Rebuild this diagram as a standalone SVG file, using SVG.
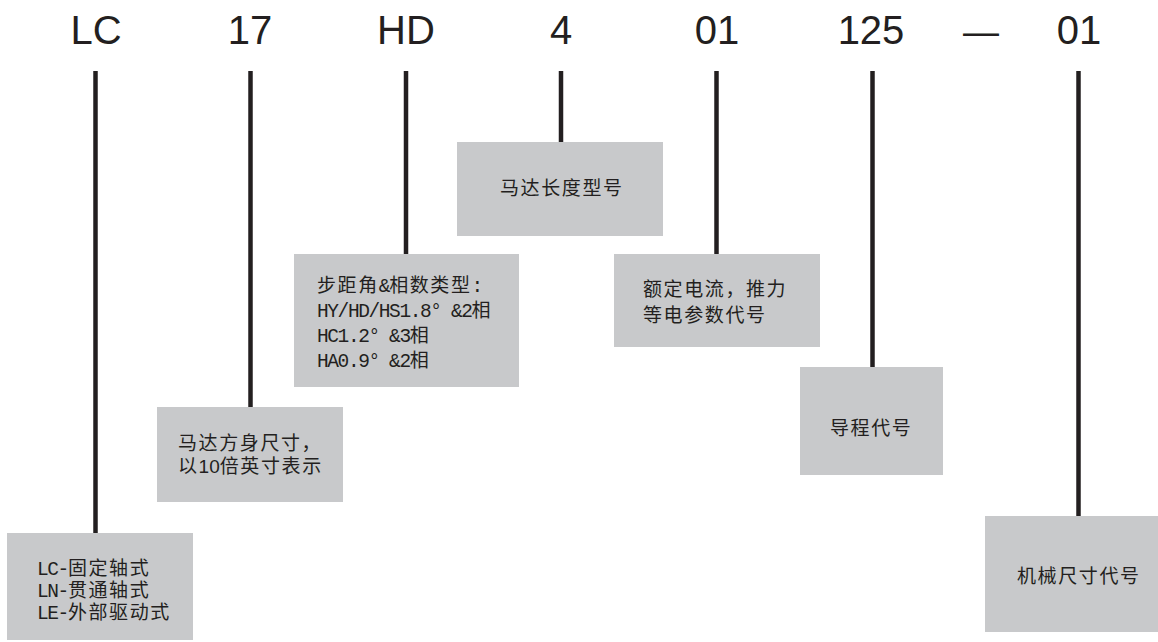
<svg xmlns="http://www.w3.org/2000/svg" width="1158" height="642" viewBox="0 0 1158 642">
<style>
.code{font-family:"Liberation Sans",Arial,sans-serif;font-size:40px;fill:#231f20;text-anchor:middle}
.box{fill:#c8c9cb}
.lbl{font-family:"Liberation Sans","Noto Sans CJK SC",sans-serif;font-size:19px;fill:#231f20}
.mono{font-family:"Liberation Mono","Noto Sans CJK SC",monospace;font-size:19px;fill:#231f20}
.cj{letter-spacing:1.6px}
.lt{font-size:19.5px;letter-spacing:-1.4px}
.ln{stroke:#231f20;stroke-width:4.5;fill:none}
</style>
<g id="codes">
<text class="code" x="96" y="44">LC</text>
<text class="code" x="250" y="44">17</text>
<text class="code" x="406" y="44">HD</text>
<text class="code" x="561" y="44">4</text>
<text class="code" x="717" y="44">01</text>
<text class="code" x="871" y="44">125</text>
<text class="code" x="981" y="44" style="font-size:36px">—</text>
<text class="code" x="1079" y="44">01</text>
</g>
<g id="connectors">
<line class="ln" x1="95.5" y1="71" x2="95.5" y2="533"/>
<line class="ln" x1="250.5" y1="71" x2="250.5" y2="407"/>
<line class="ln" x1="406" y1="71" x2="406" y2="254"/>
<line class="ln" x1="561" y1="71" x2="561" y2="142"/>
<line class="ln" x1="716.5" y1="71" x2="716.5" y2="254"/>
<line class="ln" x1="872.5" y1="71" x2="872.5" y2="367"/>
<line class="ln" x1="1078.5" y1="71" x2="1078.5" y2="516"/>
</g>
<g id="node-lc">
<rect class="box" x="7" y="533" width="186" height="107"/>
<text class="mono" x="37" y="575"><tspan class="lt">LC-</tspan><tspan class="cj">固定轴式</tspan></text>
<text class="mono" x="37" y="597"><tspan class="lt">LN-</tspan><tspan class="cj">贯通轴式</tspan></text>
<text class="mono" x="37" y="619"><tspan class="lt">LE-</tspan><tspan class="cj">外部驱动式</tspan></text>
</g>
<g id="node-17">
<rect class="box" x="157" y="407" width="186" height="95"/>
<text class="lbl" x="178" y="450"><tspan class="cj">马达方身尺寸，</tspan></text>
<text class="lbl" x="178" y="473"><tspan class="cj">以</tspan><tspan>10</tspan><tspan class="cj">倍英寸表示</tspan></text>
</g>
<g id="node-hd">
<rect class="box" x="294" y="254" width="225" height="133"/>
<text class="mono" x="317" y="292"><tspan class="cj">步距角</tspan><tspan class="lt">&amp;</tspan><tspan class="cj">相数类型</tspan><tspan class="lt">:</tspan></text>
<text class="mono" x="317" y="317"><tspan class="lt">HY/HD/HS1.8° &amp;2</tspan><tspan class="cj">相</tspan></text>
<text class="mono" x="317" y="342"><tspan class="lt">HC1.2° &amp;3</tspan><tspan class="cj">相</tspan></text>
<text class="mono" x="317" y="367"><tspan class="lt">HA0.9° &amp;2</tspan><tspan class="cj">相</tspan></text>
</g>
<g id="node-4">
<rect class="box" x="457" y="142" width="206" height="94"/>
<text class="lbl cj" x="500" y="195">马达长度型号</text>
</g>
<g id="node-01a">
<rect class="box" x="614" y="254" width="206" height="93"/>
<text class="lbl cj" x="643" y="296">额定电流，推力</text>
<text class="lbl cj" x="643" y="322">等电参数代号</text>
</g>
<g id="node-125">
<rect class="box" x="800" y="367" width="143" height="108"/>
<text class="lbl cj" x="830" y="435">导程代号</text>
</g>
<g id="node-01b">
<rect class="box" x="985" y="516" width="173" height="116"/>
<text class="lbl cj" x="1017" y="583">机械尺寸代号</text>
</g>
</svg>
